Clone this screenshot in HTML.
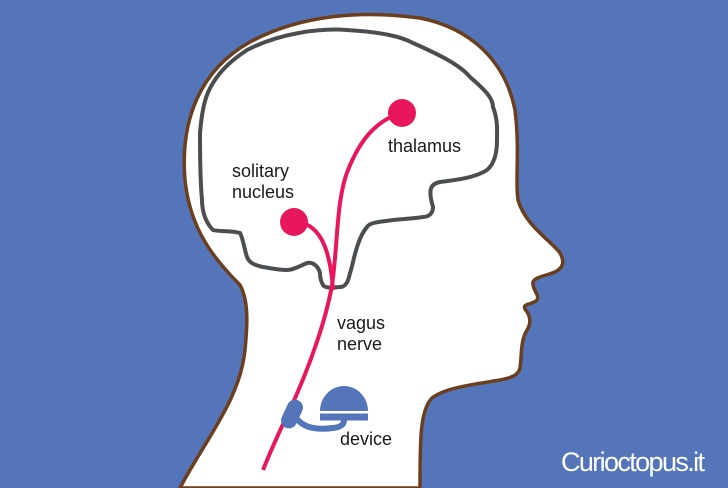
<!DOCTYPE html>
<html><head><meta charset="utf-8"><style>
html,body{margin:0;padding:0;background:#5575bb;}
svg{display:block}
text{font-family:"Liberation Sans",sans-serif;fill:#1a1a1a;}
</style></head><body>
<svg width="728" height="488" viewBox="0 0 728 488" xmlns="http://www.w3.org/2000/svg">
<rect width="728" height="488" fill="#5575bb"/>
<path d="M180,488 C205,440 240,400 245,350 C248,320 248,300 240,285 C215,260 190,230 185,180 C180,120 200,70 250,42 C300,15 360,10 420,18 C470,28 505,60 515,110 C520,150 515,180 518,200 C525,225 550,240 560,253 C565,262 563,268 555,272 C545,276 535,277 533,282 C532,290 540,295 537,300 C533,305 522,303 525,309 C530,315 532,322 527,330 C520,342 522,355 520,368 C518,376 510,378 500,380 C470,385 445,388 432,398 C420,410 420,440 420,488 Z" fill="#fff" stroke="#6b3e1e" stroke-width="3.5"/>
<path d="M247,50 C280,33 320,28 347,30 C380,32 400,36 413,43 C440,55 460,65 470,77 C485,90 493,98 493,107 C498,120 497,130 497,140 C497,155 493,165 487,170 C475,178 455,180 440,182 C430,184 428,190 433,207 C433,214 428,217 423,217 C410,219 400,219 393,220 C380,222 370,222 367,227 C360,235 358,245 357,247 C353,260 352,268 350,273 C348,283 345,287 340,287 C330,288 325,288 323,285 C320,280 320,276 320,273 C318,265 312,262 307,263 C300,266 293,270 287,270 C278,270 270,268 263,267 C253,265 249,262 247,257 C244,248 243,238 240,233 C230,230 220,232 213,230 C205,222 202,210 202,200 C200,180 200,150 200,133 C202,110 205,95 213,83 C222,68 235,58 247,50 Z" fill="none" stroke="#4a4e50" stroke-width="4"/>
<path d="M263,470 C275,440 285,420 292,405 C310,365 326,320 332,285 C338,245 336,200 348,170 C360,140 375,122 400,113" fill="none" stroke="#e8175d" stroke-width="4"/>
<path d="M294,222 C318,222 330,245 333,290" fill="none" stroke="#e8175d" stroke-width="4"/>
<circle cx="402" cy="113" r="14" fill="#e8175d"/>
<circle cx="294" cy="222" r="14" fill="#e8175d"/>
<path d="M298,420 C305,428 318,430 333,428 C342,427 344,424 344,420" fill="none" stroke="#5575bb" stroke-width="6" stroke-linecap="round"/>
<rect x="284" y="399" width="16" height="30" rx="8" fill="#5575bb" transform="rotate(25 292 414)"/>
<path d="M320,411 A24,25 0 0 1 368,411 Z" fill="#5575bb"/>
<rect x="320" y="413.5" width="48" height="7" fill="#5575bb"/>
<text x="388" y="152" font-size="18">thalamus</text>
<text x="232" y="177" font-size="18">solitary</text>
<text x="232" y="198" font-size="18">nucleus</text>
<text x="337" y="329" font-size="18">vagus</text>
<text x="337" y="350" font-size="18">nerve</text>
<text x="340" y="445" font-size="18">device</text>
<text x="561" y="471" font-size="27" style="fill:#fff" textLength="144" lengthAdjust="spacing">Curioctopus.it</text>
</svg>
</body></html>
